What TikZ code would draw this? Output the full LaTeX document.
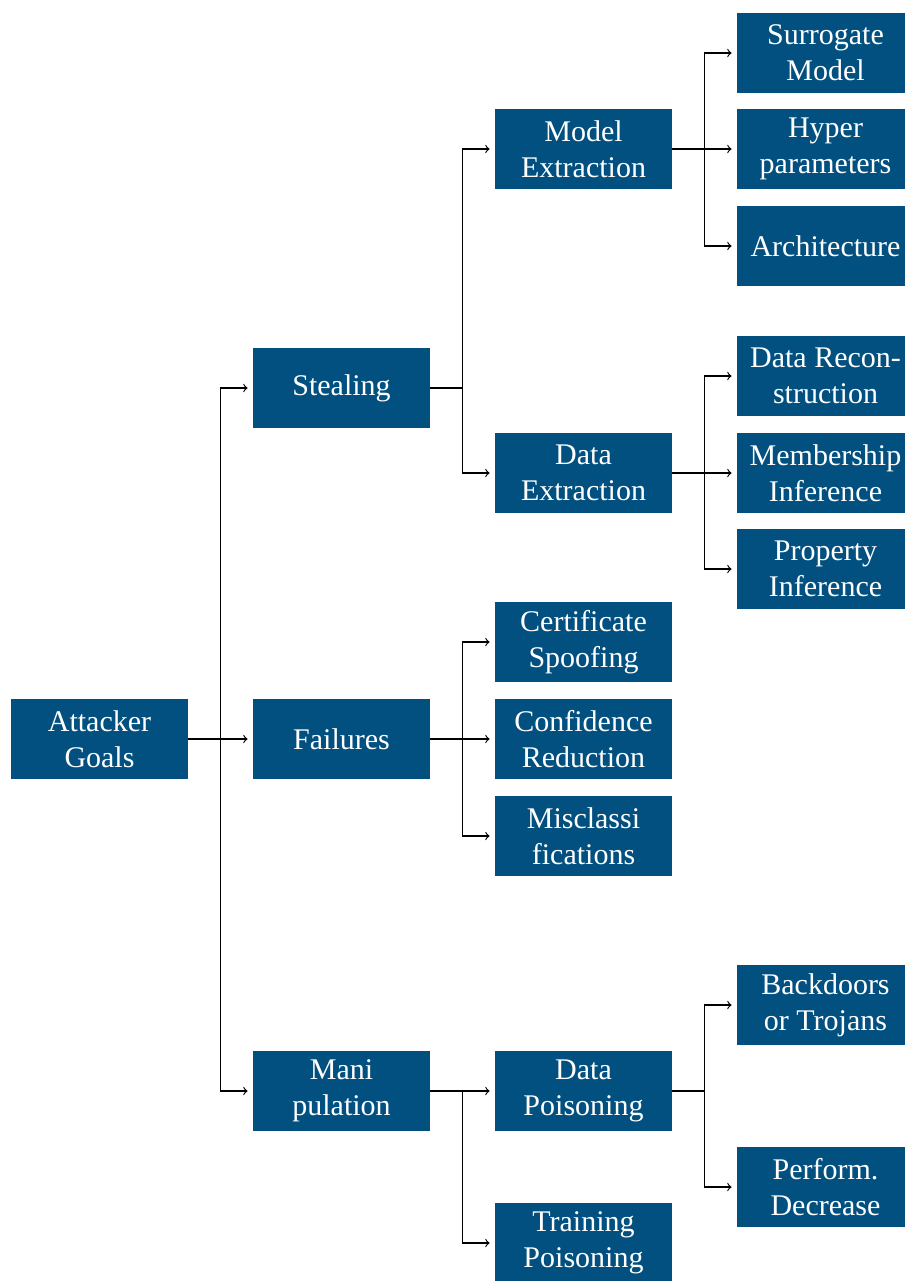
\documentclass[tikz,border=0pt]{standalone}
\usepackage{fontspec}
\setmainfont{Liberation Serif}
\definecolor{goalblue}{RGB}{2,80,128}
\tikzset{
  goal/.style={fill=goalblue, text=white, minimum width=88.5pt, minimum height=40pt,
    inner sep=1pt, align=center, font=\fontsize{15}{18}\selectfont},
  link/.style={->, line width=0.6pt, shorten >=2.5pt},
}
\begin{document}
\begin{tikzpicture}[x=0.5pt,y=-0.5pt]
        \useasboundingbox (0,0) rectangle (905,1281);

        % Root
        \node[goal] (goals) at (99.5,739) {Attacker\\Goals};

        % Level 1
        \node[goal] (steal) at (341.5,388) {Stealing};
        \node[goal] (fail) at (341.5,739) {Failures};
        \node[goal] (manip) at (341.5,1091) {Mani\\pulation};

        % Level 2
        \node[goal] (modelex) at (583.5,149) {Model\\Extraction};
        \node[goal] (dataex) at (583.5,473) {Data\\Extraction};
        \node[goal] (cert) at (583.5,642) {Certificate\\Spoofing};
        \node[goal] (conf) at (583.5,739) {Confidence\\Reduction};
        \node[goal] (miscl) at (583.5,836) {Misclassi\\fications};
        \node[goal] (datapois) at (583.5,1091) {Data\\Poisoning};
        \node[goal] (trainpois) at (583.5,1243) {Training\\Poisoning};

        % Level 3
        \node[goal] (surr) at (825.5,53) {Surrogate\\Model};
        \node[goal] (hyper) at (825.5,149) {Hyper\\parameters};
        \node[goal] (arch) at (825.5,246) {Architecture};
        \node[goal] (recon) at (825.5,376) {Data Recon-\\struction};
        \node[goal] (member) at (825.5,473) {Membership\\Inference};
        \node[goal] (prop) at (825.5,569) {Property\\Inference};
        \node[goal] (backd) at (825.5,1005) {Backdoors\\or Trojans};
        \node[goal] (perf) at (825.5,1187) {Perform.\\Decrease};

        % Root to level 1
        \draw[link] (goals.east) -- ++(32,0) |- (steal.west);
        \draw[link] (goals.east) -- ++(32,0) |- (fail.west);
        \draw[link] (goals.east) -- ++(32,0) |- (manip.west);

        % Level 1 to level 2
        \draw[link] (steal.east) -- ++(32,0) |- (modelex.west);
        \draw[link] (steal.east) -- ++(32,0) |- (dataex.west);
        \draw[link] (fail.east) -- ++(32,0) |- (cert.west);
        \draw[link] (fail.east) -- ++(32,0) |- (conf.west);
        \draw[link] (fail.east) -- ++(32,0) |- (miscl.west);
        \draw[link] (manip.east) -- ++(32,0) |- (datapois.west);
        \draw[link] (manip.east) -- ++(32,0) |- (trainpois.west);

        % Level 2 to level 3
        \draw[link] (modelex.east) -- ++(32,0) |- (surr.west);
        \draw[link] (modelex.east) -- ++(32,0) |- (hyper.west);
        \draw[link] (modelex.east) -- ++(32,0) |- (arch.west);
        \draw[link] (dataex.east) -- ++(32,0) |- (recon.west);
        \draw[link] (dataex.east) -- ++(32,0) |- (member.west);
        \draw[link] (dataex.east) -- ++(32,0) |- (prop.west);
        \draw[link] (datapois.east) -- ++(32,0) |- (backd.west);
        \draw[link] (datapois.east) -- ++(32,0) |- (perf.west);
    \end{tikzpicture}
\end{document}
